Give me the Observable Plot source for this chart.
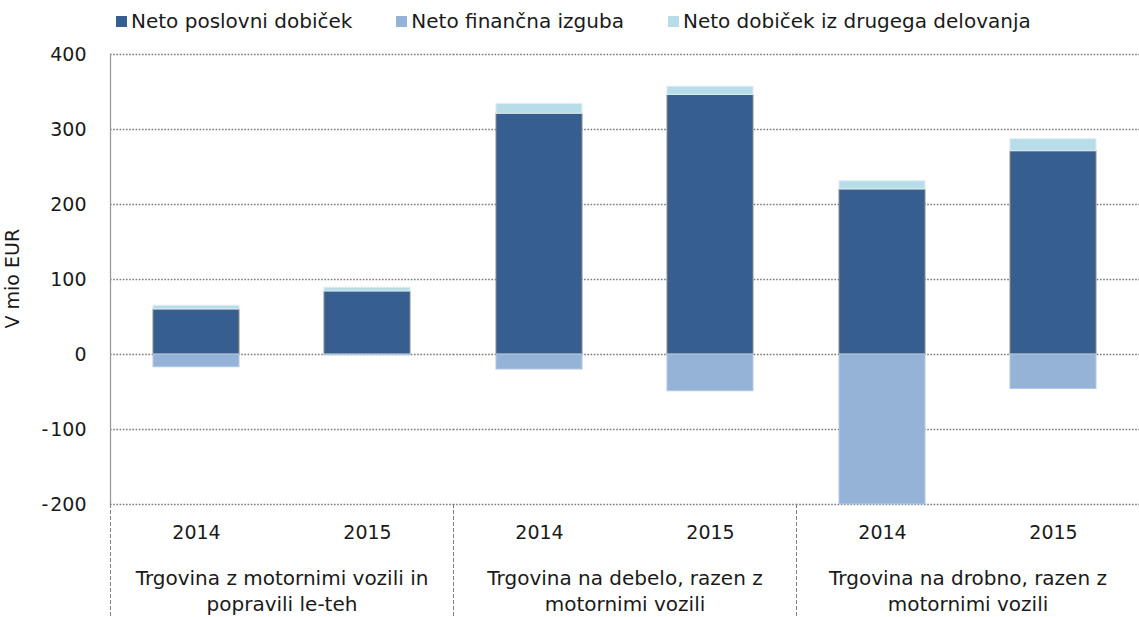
<!DOCTYPE html>
<html><head><meta charset="utf-8">
<script src="https://cdn.jsdelivr.net/npm/d3@7"></script>
<script src="https://cdn.jsdelivr.net/npm/@observablehq/plot@0.6"></script>
<style>
body{margin:0;background:#fff;font-family:"DejaVu Sans",sans-serif;}
#legend{height:40px;display:flex;align-items:center;padding-left:116px;font-size:20px;color:#1a1a1a;box-sizing:border-box;padding-top:2px;}
.item{display:flex;align-items:center;margin-right:44px;}
.sw{width:11px;height:11px;margin-right:4px;}
</style></head>
<body>
<div id="legend"></div>
<div id="chart"></div>
<script>
const groups = ["Trgovina z motornimi vozili in popravili le-teh", "Trgovina na debelo, razen z motornimi vozili", "Trgovina na drobno, razen z motornimi vozili"];
const groupLabels = ["Trgovina z motornimi vozili in\npopravili le-teh", "Trgovina na debelo, razen z\nmotornimi vozili", "Trgovina na drobno, razen z\nmotornimi vozili"];
const years = ["2014", "2015"];
const series = ["Neto poslovni dobiček", "Neto finančna izguba", "Neto dobiček iz drugega delovanja"];
const colors = ["#365F8F", "#95B3D7", "#B7DDE8"];
const poslovni = [60, 84, 321, 346, 220, 271];
const financna = [-17, -1, -20, -49, -200, -46];
const drugo = [5, 5, 13, 11, 11, 16];
const yTicks = [-200, -100, 0, 100, 200, 300, 400];

const rows = [];
groups.forEach((g, gi) => years.forEach((yr, yi) => {
  const i = gi * 2 + yi;
  [poslovni, financna, drugo].forEach((arr, si) => rows.push({group: g, year: yr, series: series[si], value: arr[i]}));
}));

const legend = document.getElementById("legend");
series.forEach((s, i) => {
  const it = document.createElement("div"); it.className = "item";
  const sw = document.createElement("span"); sw.className = "sw"; sw.style.background = colors[i];
  const tx = document.createElement("span"); tx.textContent = s;
  it.append(sw, tx); legend.append(it);
});

const strokes = {"Neto poslovni dobiček": "#8c8c8c", "Neto finančna izguba": "#b4c8e2", "Neto dobiček iz drugega delovanja": "#dcecf3"};

const chart = Plot.plot({
  width: 1139, height: 577,
  marginTop: 14, marginBottom: 113, marginLeft: 110, marginRight: 0,
  style: {fontFamily: "'DejaVu Sans', sans-serif", fontSize: "19px", color: "#1a1a1a", background: "#fff"},
  fx: {domain: groups, padding: 0, label: null},
  x: {domain: years, paddingInner: 0.5, paddingOuter: 0.25, label: null},
  y: {domain: [-200, 400], label: null},
  color: {domain: series, range: colors},
  marks: [
    Plot.gridY(yTicks, {stroke: "#7a7a7a", strokeOpacity: 1, strokeDasharray: "1.6,1.6", strokeWidth: 1.6}),
    Plot.barY(rows, {fx: "group", x: "year", y: "value", fill: "series", stroke: d => strokes[d.series], strokeWidth: 1}),
    Plot.frame({anchor: "left", facet: "super", stroke: "#9a9a9a", strokeWidth: 1.3}),
    Plot.frame({anchor: "left", stroke: "#808080", strokeDasharray: "3,3", strokeWidth: 1, insetTop: 450, insetBottom: -113}),
    Plot.axisY(yTicks, {tickSize: 0, tickPadding: 24, tickFormat: d => d < 0 ? "-\u200A" + Math.abs(d) : String(d), fontSize: 19}),
    Plot.axisX({tickSize: 0, tickPadding: 21, fontSize: 19, label: null}),
    Plot.axisFx({anchor: "bottom", tickSize: 0, tickPadding: 62, fontSize: 20, lineHeight: 1.3, label: null, tickFormat: d => groupLabels[groups.indexOf(d)]}),
    Plot.text(["V mio EUR"], {facet: "super", frameAnchor: "left", textAnchor: "start", rotate: -90, dx: -98, dy: 49, fontSize: 19, fill: "#1a1a1a"})
  ]
});
document.getElementById("chart").append(chart);
</script>
</body></html>
